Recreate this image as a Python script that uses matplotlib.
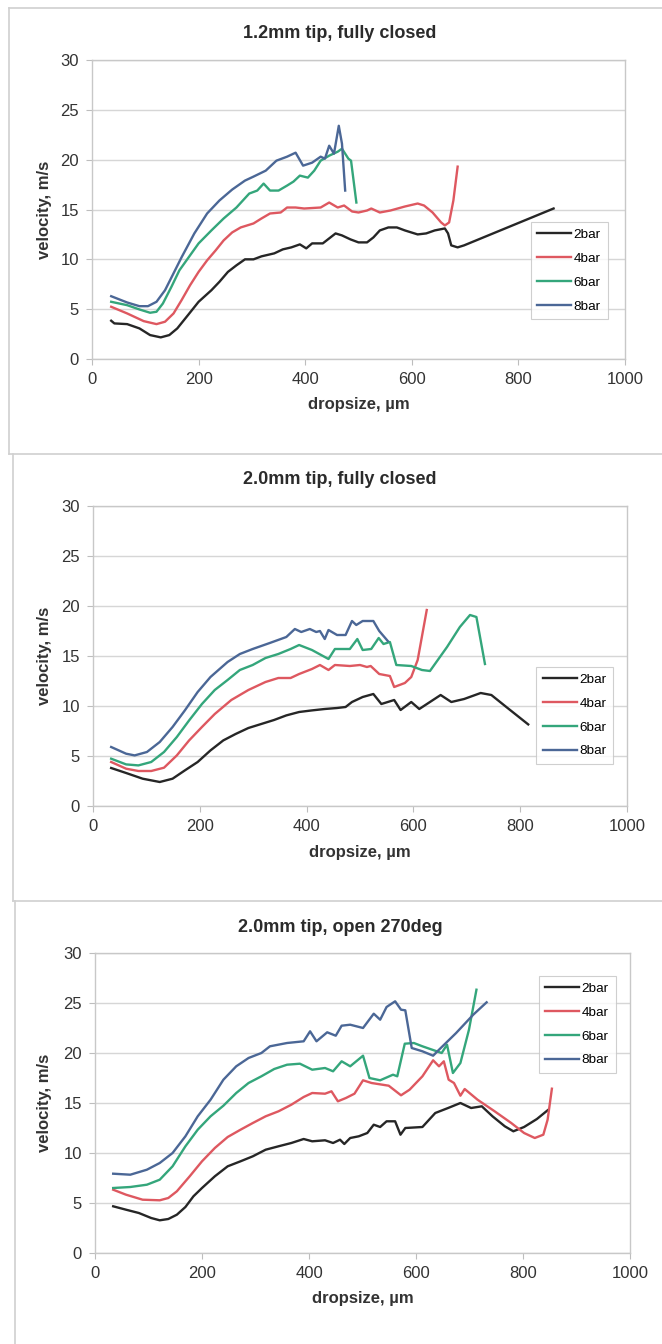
import matplotlib
matplotlib.use("Agg")
import matplotlib.pyplot as plt
from matplotlib.lines import Line2D

plt.rcParams['font.family'] = ['Liberation Sans', 'DejaVu Sans']

# 1.2mm tip, fully closed
a_2bar_x = [36, 42, 66, 89, 109, 129, 145, 160, 180, 200, 224, 239, 255, 271, 287, 303, 318, 342, 358, 374,
            390, 402, 413, 433, 445, 457, 469, 485, 500, 516, 528, 540, 556, 572, 587, 611, 627, 643, 662, 668,
            674, 686, 698, 866]
a_2bar_y = [3.84, 3.57, 3.5, 3.07, 2.4, 2.17, 2.4, 3.07, 4.4, 5.74, 6.9, 7.74, 8.74, 9.4, 10.0, 10.0, 10.3, 10.6, 11.0, 11.2,
            11.5, 11.1, 11.6, 11.6, 12.1, 12.6, 12.4, 12.0, 11.7, 11.7, 12.2, 12.9, 13.2, 13.2, 12.9, 12.5, 12.6, 12.9, 13.1, 12.6,
            11.4, 11.2, 11.4, 15.1]
a_4bar_x = [36, 66, 97, 121, 137, 153, 168, 184, 200, 216, 232, 247, 263, 279, 303, 318, 334, 354, 366, 382,
            398, 429, 445, 461, 473, 488, 500, 516, 524, 540, 560, 587, 611, 623, 639, 655, 662, 670, 678, 686]
a_4bar_y = [5.24, 4.57, 3.8, 3.5, 3.74, 4.57, 5.9, 7.4, 8.74, 9.9, 10.9, 11.9, 12.7, 13.2, 13.6, 14.1, 14.6, 14.7, 15.2, 15.2,
            15.1, 15.2, 15.7, 15.2, 15.4, 14.8, 14.7, 14.9, 15.1, 14.7, 14.9, 15.3, 15.6, 15.4, 14.7, 13.7, 13.4, 13.7, 15.9, 19.3]
a_6bar_x = [36, 66, 89, 109, 121, 133, 149, 164, 184, 200, 224, 247, 271, 295, 310, 322, 334, 350, 366, 378,
            390, 405, 417, 429, 445, 461, 469, 481, 486, 496]
a_6bar_y = [5.74, 5.4, 4.97, 4.64, 4.74, 5.57, 7.24, 8.9, 10.4, 11.6, 12.9, 14.1, 15.2, 16.6, 16.9, 17.6, 16.9, 16.9, 17.4, 17.8,
            18.4, 18.2, 18.9, 19.9, 20.4, 20.8, 21.1, 20.1, 19.9, 15.7]
a_8bar_x = [36, 66, 89, 105, 121, 137, 153, 168, 192, 216, 239, 263, 287, 303, 326, 346, 366, 382, 396, 413,
            429, 437, 445, 454, 463, 469, 475]
a_8bar_y = [6.3, 5.67, 5.3, 5.3, 5.74, 6.9, 8.6, 10.2, 12.6, 14.6, 15.9, 17.0, 17.9, 18.3, 18.9, 19.9, 20.3, 20.7, 19.4, 19.7,
            20.3, 20.1, 21.4, 20.6, 23.4, 21.6, 16.9]

# 2.0mm tip, fully closed
b_2bar_x = [34, 62, 93, 125, 149, 172, 196, 220, 244, 267, 291, 315, 339, 362, 386, 410, 434, 457, 473, 485,
            505, 525, 540, 564, 576, 596, 611, 631, 651, 671, 695, 726, 746, 774, 815]
b_2bar_y = [3.8, 3.3, 2.73, 2.4, 2.73, 3.56, 4.4, 5.56, 6.56, 7.2, 7.8, 8.2, 8.6, 9.06, 9.4, 9.56, 9.7, 9.8, 9.9, 10.4,
            10.9, 11.2, 10.2, 10.6, 9.6, 10.4, 9.7, 10.4, 11.1, 10.4, 10.7, 11.3, 11.1, 9.9, 8.16]
b_4bar_x = [34, 62, 85, 109, 133, 157, 180, 204, 228, 259, 291, 323, 347, 370, 386, 410, 425, 441, 453, 481,
            500, 513, 520, 536, 556, 564, 584, 596, 608, 625]
b_4bar_y = [4.4, 3.73, 3.5, 3.5, 3.83, 5.06, 6.56, 7.9, 9.2, 10.6, 11.6, 12.4, 12.8, 12.8, 13.2, 13.7, 14.1, 13.6, 14.1, 14.0,
            14.1, 13.9, 14.0, 13.2, 13.0, 11.9, 12.3, 12.9, 14.6, 19.6]
b_6bar_x = [34, 62, 85, 109, 133, 157, 180, 204, 228, 252, 275, 299, 323, 347, 370, 386, 410, 441, 453, 481,
            495, 505, 521, 535, 544, 556, 568, 596, 616, 631, 663, 687, 706, 718, 734]
b_6bar_y = [4.73, 4.16, 4.06, 4.4, 5.4, 6.9, 8.56, 10.2, 11.6, 12.6, 13.6, 14.1, 14.8, 15.2, 15.7, 16.1, 15.6, 14.7, 15.7, 15.7,
            16.7, 15.6, 15.7, 16.8, 16.2, 16.4, 14.1, 14.0, 13.6, 13.5, 15.9, 17.9, 19.1, 18.9, 14.2]
b_8bar_x = [34, 62, 78, 101, 125, 149, 172, 196, 220, 252, 275, 299, 331, 362, 378, 390, 406, 418, 425, 434,
            441, 457, 473, 485, 493, 505, 525, 536, 552]
b_8bar_y = [5.9, 5.23, 5.06, 5.4, 6.4, 7.9, 9.56, 11.4, 12.9, 14.4, 15.2, 15.7, 16.3, 16.9, 17.7, 17.4, 17.7, 17.4, 17.5, 16.7,
            17.6, 17.1, 17.1, 18.5, 18.1, 18.5, 18.5, 17.5, 16.5]

# 2.0mm tip, open 270deg
c_2bar_x = [34, 58, 82, 105, 121, 137, 153, 169, 184, 200, 224, 248, 272, 295, 319, 343, 367, 390, 406, 430,
            445, 458, 466, 477, 493, 509, 521, 533, 545, 561, 571, 580, 612, 636, 660, 683, 703, 723, 743, 766,
            782, 802, 826, 846]
c_2bar_y = [4.67, 4.33, 4.0, 3.5, 3.27, 3.4, 3.83, 4.6, 5.67, 6.5, 7.67, 8.67, 9.17, 9.67, 10.33, 10.67, 11.0, 11.4, 11.17, 11.27,
            11.0, 11.33, 10.9, 11.5, 11.67, 12.0, 12.83, 12.6, 13.17, 13.17, 11.83, 12.5, 12.6, 14.0, 14.5, 15.0, 14.5, 14.67, 13.67, 12.67,
            12.17, 12.6, 13.4, 14.27]
c_4bar_x = [34, 58, 89, 121, 137, 153, 177, 200, 224, 248, 272, 295, 319, 343, 367, 390, 406, 430, 442, 454,
            469, 485, 501, 517, 549, 572, 588, 612, 632, 643, 652, 661, 671, 683, 691, 715, 747, 778, 802, 822,
            838, 846, 854]
c_4bar_y = [6.33, 5.83, 5.33, 5.27, 5.5, 6.17, 7.67, 9.17, 10.5, 11.6, 12.33, 13.0, 13.67, 14.17, 14.83, 15.6, 16.0, 15.93, 16.17, 15.17,
            15.5, 15.93, 17.27, 17.0, 16.73, 15.77, 16.33, 17.67, 19.27, 18.67, 19.17, 17.33, 17.0, 15.73, 16.4, 15.33, 14.17, 13.0, 12.0, 11.5,
            11.83, 13.33, 16.43]
c_6bar_x = [34, 66, 97, 121, 145, 169, 192, 216, 240, 264, 287, 311, 335, 359, 383, 406, 430, 445, 461, 477,
            501, 513, 533, 557, 565, 579, 596, 612, 648, 658, 669, 683, 699, 713]
c_6bar_y = [6.5, 6.6, 6.83, 7.33, 8.67, 10.67, 12.33, 13.67, 14.73, 16.0, 17.0, 17.67, 18.4, 18.83, 18.93, 18.33, 18.5, 18.17, 19.17, 18.67,
            19.73, 17.5, 17.27, 17.83, 17.67, 20.93, 21.0, 20.67, 20.0, 20.83, 18.0, 19.0, 22.33, 26.33]
c_8bar_x = [34, 66, 97, 121, 145, 169, 192, 216, 240, 264, 287, 311, 327, 359, 390, 402, 414, 434, 450, 461,
            477, 501, 521, 533, 545, 561, 572, 580, 592, 612, 632, 640, 675, 707, 732]
c_8bar_y = [7.93, 7.83, 8.33, 9.0, 10.0, 11.67, 13.67, 15.33, 17.33, 18.67, 19.5, 20.0, 20.67, 21.0, 21.17, 22.17, 21.17, 22.07, 21.73, 22.73,
            22.83, 22.5, 23.93, 23.33, 24.6, 25.17, 24.33, 24.27, 20.5, 20.17, 19.73, 20.17, 22.0, 23.83, 25.07]

labels = ["2bar", "4bar", "6bar", "8bar"]
colors = ["#262626", "#de5860", "#34a67b", "#4b6796"]

W, H = 662, 1344
fig = plt.figure(figsize=(W / 100, H / 100), dpi=100)


# axes placed by pixel box (left, top, right, bottom)
def px_axes(left, top, right, bottom):
    return fig.add_axes([left / W, 1 - bottom / H, (right - left) / W, (bottom - top) / H])


def draw_panel(box, title, title_y, xlabel_y, xs, ys, leg_center):
    left, top, right, bottom = box
    ax = px_axes(left, top, right, bottom)
    for x, y, lab, col in zip(xs, ys, labels, colors):
        ax.plot(x, y, color=col, lw=1.7, label=lab, solid_joinstyle="round")
    ax.set_xlim(0, 1000)
    ax.set_ylim(0, 30)
    ax.set_xticks(range(0, 1001, 200))
    ax.set_yticks(range(0, 31, 5))
    ax.grid(axis="y", color="#d6d6d6", lw=1.0)
    ax.set_axisbelow(True)
    for s in ax.spines.values():
        s.set_color("#c8c8c8")
        s.set_linewidth(1.0)
    ax.tick_params(direction="out", length=4, width=0.8, color="#bdbdbd",
                   labelsize=12, labelcolor="#333333", pad=5.5)
    leg = ax.legend(loc="center", bbox_to_anchor=leg_center, frameon=True, fancybox=False,
                    edgecolor="#c4c4c4", fontsize=9.7, handlelength=2.5, handletextpad=0.2,
                    labelspacing=0.85, borderpad=0.5, borderaxespad=0)
    leg.get_frame().set_linewidth(0.8)
    # titles and axis labels
    fig.text(340 / W, 1 - title_y / H, title, ha="center", va="center",
             fontsize=13, fontweight="bold", color="#2b2b2b")
    fig.text((left + right) / 2 / W, 1 - xlabel_y / H, "dropsize, µm", ha="center", va="center",
             fontsize=12, fontweight="bold", color="#333333")
    fig.text(44 / W, 1 - (top + bottom) / 2 / H, "velocity, m/s", ha="center", va="center",
             rotation=90, fontsize=12, fontweight="bold", color="#333333")
    return ax


draw_panel((92, 60, 625, 359), "1.2mm tip, fully closed", 33, 404,
           [a_2bar_x, a_4bar_x, a_6bar_x, a_8bar_x], [a_2bar_y, a_4bar_y, a_6bar_y, a_8bar_y],
           (0.895, 0.296))
draw_panel((93, 506, 627, 806), "2.0mm tip, fully closed", 479, 852,
           [b_2bar_x, b_4bar_x, b_6bar_x, b_8bar_x], [b_2bar_y, b_4bar_y, b_6bar_y, b_8bar_y],
           (0.902, 0.302))
draw_panel((95, 953, 630, 1253), "2.0mm tip, open 270deg", 928, 1298,
           [c_2bar_x, c_4bar_x, c_6bar_x, c_8bar_x], [c_2bar_y, c_4bar_y, c_6bar_y, c_8bar_y],
           (0.901, 0.762))

# chart frames around each panel
frame = dict(color="#d0d0d0", lw=1.2)
for (x0, y0, x1, y1) in [(9, 8, W, 8), (9, 8, 9, 454), (9, 454, W, 454), (13, 454, 13, 901),
                         (13, 901, W, 901), (15, 901, 15, H)]:
    fig.add_artist(Line2D([x0 / W, x1 / W], [1 - y0 / H, 1 - y1 / H], transform=fig.transFigure, **frame))

fig.savefig("out.png", dpi=100)
